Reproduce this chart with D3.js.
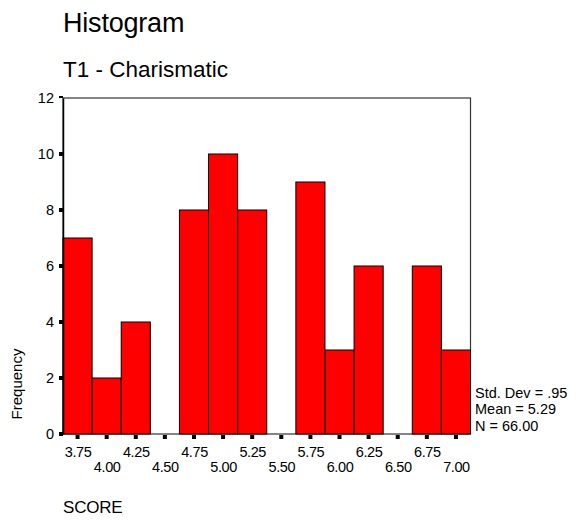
<!DOCTYPE html>
<html>
<head>
<meta charset="utf-8">
<script src="https://cdn.jsdelivr.net/npm/d3@7"></script>
<style>
  html, body { margin: 0; padding: 0; background: #fff; }
  svg { display: block; font-family: "Liberation Sans", Arial, sans-serif; }
</style>
</head>
<body>
<svg id="chart" width="578" height="520"></svg>
<script>
  // bin centres (SCORE) and counts
  const binCenters = [3.75, 4.00, 4.25, 4.50, 4.75, 5.00, 5.25, 5.50, 5.75, 6.00, 6.25, 6.50, 6.75, 7.00];
  const frequencies = [7, 2, 4, 0, 8, 10, 8, 0, 9, 3, 6, 0, 6, 3];
  const yTicks = [0, 2, 4, 6, 8, 10, 12];
  const statLines = ["Std. Dev = .95", "Mean = 5.29", "N = 66.00"];
  const binWidth = 0.25;

  const svg = d3.select("#chart");
  const plot = { left: 63, right: 470.5, top: 98, bottom: 434 };

  const x = d3.scaleLinear()
    .domain([binCenters[0] - binWidth / 2, binCenters[binCenters.length - 1] + binWidth / 2])
    .range([plot.left, plot.right]);
  const y = d3.scaleLinear().domain([0, 12]).range([plot.bottom, plot.top]);

  svg.append("text").attr("x", 63).attr("y", 32)
    .style("font-size", "27px").style("letter-spacing", "-0.2px").text("Histogram");
  svg.append("text").attr("x", 63).attr("y", 77)
    .style("font-size", "22.5px").text("T1 - Charismatic");

  // frame
  svg.append("rect")
    .attr("x", plot.left).attr("y", plot.top)
    .attr("width", plot.right - plot.left).attr("height", plot.bottom - plot.top)
    .attr("fill", "none").attr("stroke", "#333").attr("stroke-width", 1.2);

  const bins = binCenters.map((c, i) => ({ c, f: frequencies[i] })).filter((d) => d.f > 0);
  svg.selectAll(".bar")
    .data(bins)
    .join("rect")
    .attr("class", "bar")
    .attr("x", (d) => x(d.c - binWidth / 2))
    .attr("y", (d) => y(d.f))
    .attr("width", (d) => x(d.c + binWidth / 2) - x(d.c - binWidth / 2))
    .attr("height", (d) => y(0) - y(d.f))
    .attr("fill", "#ff0000")
    .attr("stroke", "#000")
    .attr("stroke-width", 1);

  // y axis
  svg.append("g")
    .attr("transform", `translate(${plot.left},0)`)
    .call(d3.axisLeft(y).tickValues(yTicks).tickSize(0).tickPadding(9).tickFormat(d3.format("d")))
    .call((g) => g.select(".domain").attr("stroke", "#000").attr("stroke-width", 1.5))
    .call((g) => g.selectAll("text").attr("fill", "#000").style("font-size", "14.5px")
      .style("font-family", "Liberation Sans, Arial, sans-serif"));
  svg.selectAll(".ytick")
    .data(yTicks)
    .join("rect")
    .attr("class", "ytick")
    .attr("x", plot.left - 4).attr("y", (d) => y(d) - 2)
    .attr("width", 4).attr("height", (d) => (d === 12 ? 2 : 4))
    .attr("fill", "#000");

  // x axis, labels on two staggered rows
  svg.append("g")
    .attr("transform", `translate(0,${plot.bottom})`)
    .call(d3.axisBottom(x).tickValues(binCenters).tickSize(0).tickPadding(0).tickFormat(d3.format(".2f")))
    .call((g) => g.select(".domain").remove())
    .call((g) => g.selectAll("text")
      .attr("fill", "#000")
      .attr("dy", null)
      .attr("y", (d, i) => (i % 2 === 0 ? 23 : 37.5))
      .style("font-size", "14.5px")
      .style("letter-spacing", "-0.4px")
      .style("font-family", "Liberation Sans, Arial, sans-serif"));
  svg.selectAll(".xtick")
    .data(binCenters)
    .join("rect")
    .attr("class", "xtick")
    .attr("x", (d) => x(d) - 2).attr("y", plot.bottom + 1)
    .attr("width", 4).attr("height", 4)
    .attr("fill", "#000");

  svg.append("text")
    .attr("transform", "translate(22,384) rotate(-90)")
    .attr("text-anchor", "middle")
    .style("font-size", "15px").text("Frequency");

  svg.append("text").attr("x", 63).attr("y", 513)
    .style("font-size", "17px").style("letter-spacing", "-0.2px").text("SCORE");

  svg.selectAll(".stat")
    .data(statLines)
    .join("text")
    .attr("class", "stat")
    .attr("x", 475)
    .attr("y", (d, i) => 397.5 + i * 16.5)
    .style("font-size", "14.5px")
    .text((d) => d);
</script>
</body>
</html>
